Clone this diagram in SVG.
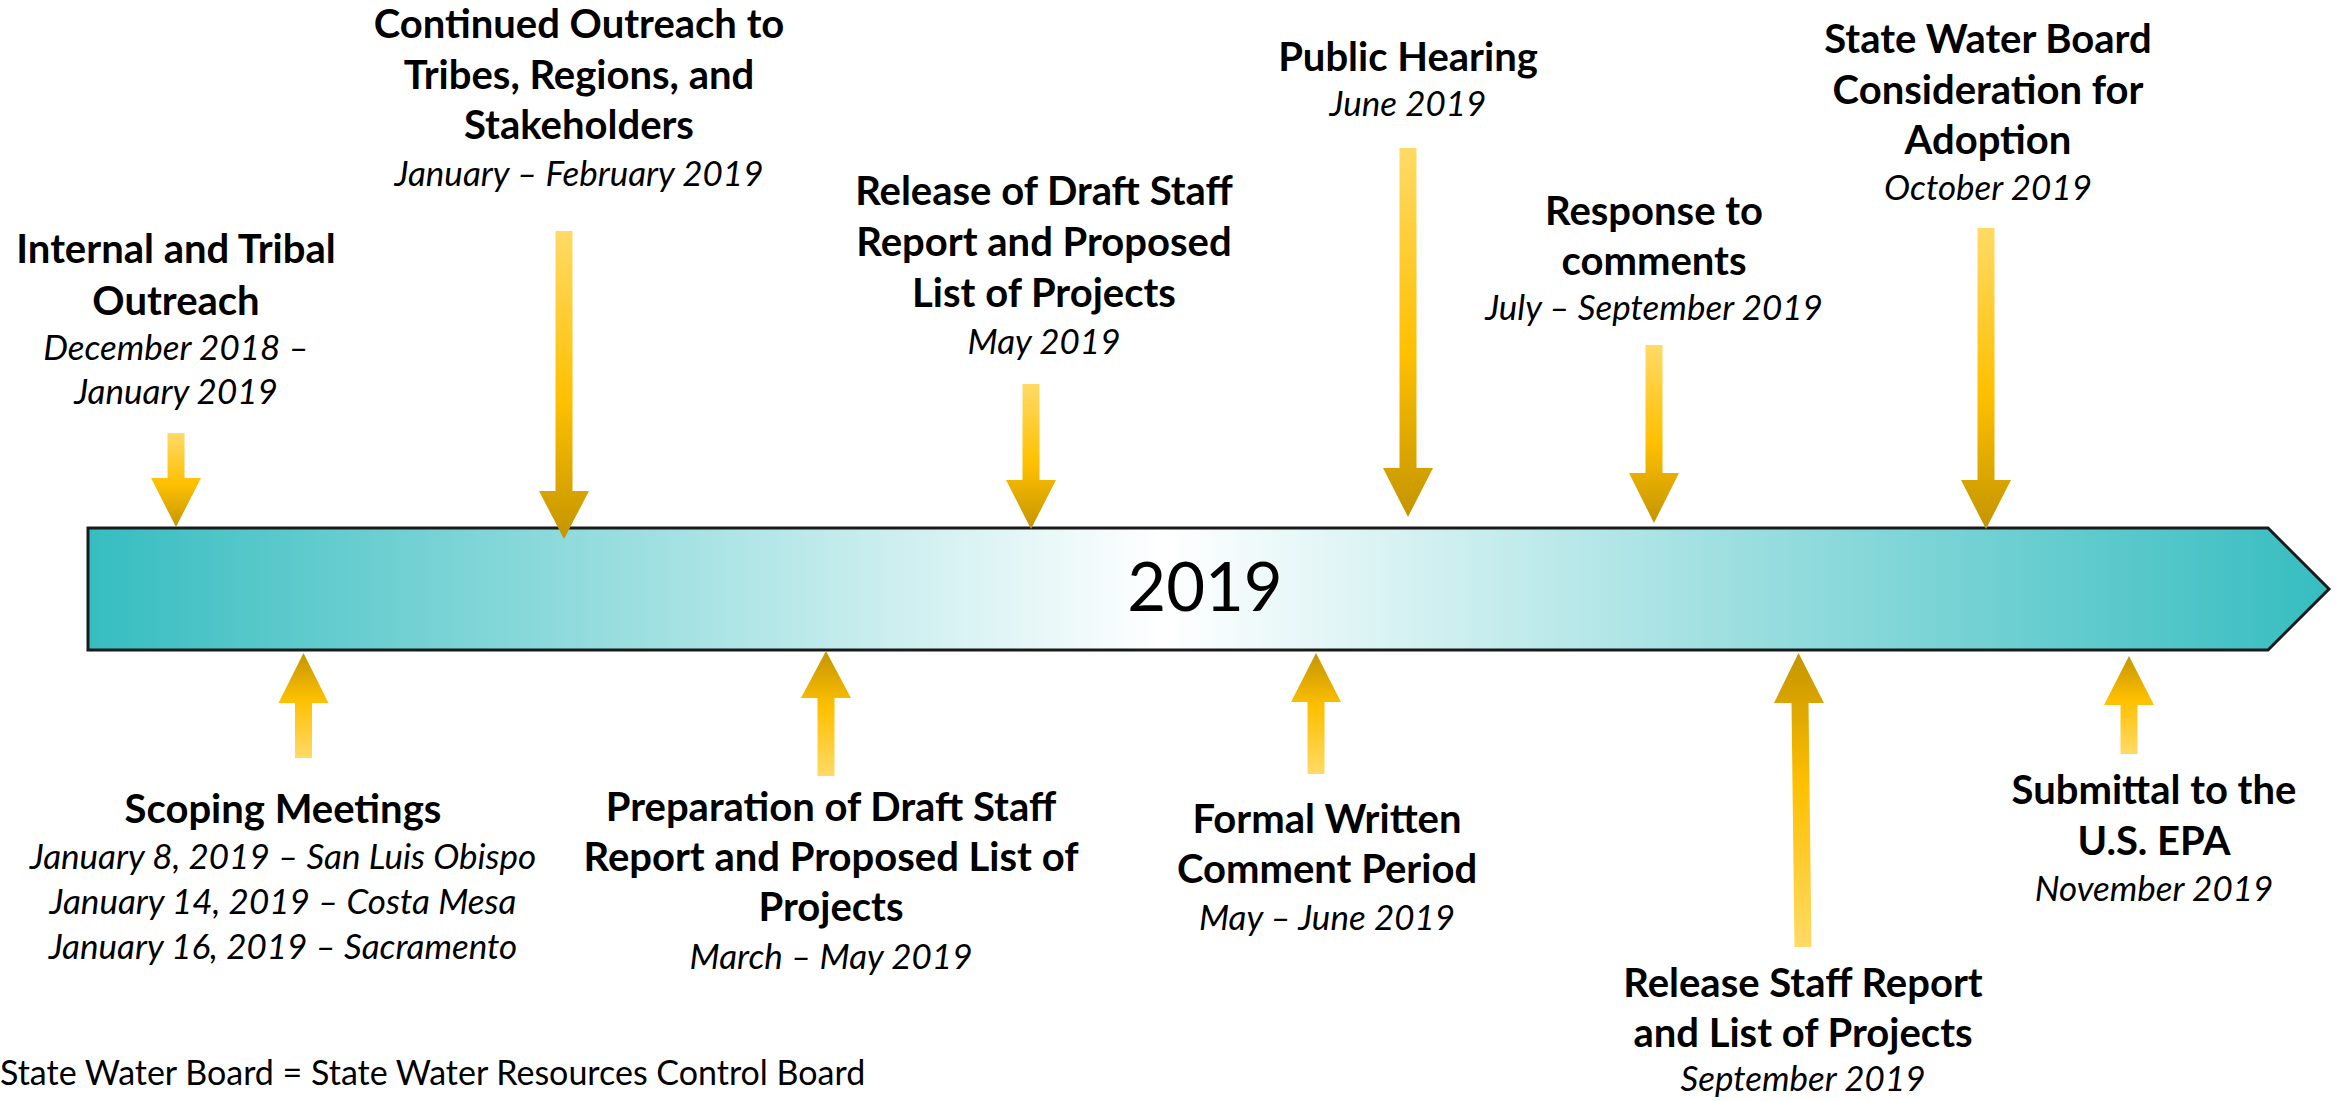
<svg xmlns="http://www.w3.org/2000/svg" width="2336" height="1101" viewBox="0 0 2336 1101">
  <style>
    text { fill: #000; font-family: Lato, "Liberation Sans", sans-serif; text-anchor: middle; }
    .b { font-weight: bold; font-size: 40px; }
    .i { font-style: italic; font-size: 35px; }
    .yr { font-size: 67px; }
    .note { font-size: 34px; text-anchor: start; }
    .arrow { stroke: none; }
    .down { fill: url(#gDown); }
    .up { fill: url(#gUp); }
  </style>
  <defs>
    <linearGradient id="gBar" gradientUnits="userSpaceOnUse" x1="88" y1="0" x2="2329" y2="0">
      <stop offset="0" stop-color="#36BDC0"/>
      <stop offset="0.48" stop-color="#FFFFFF"/>
      <stop offset="1" stop-color="#36BDC0"/>
    </linearGradient>
    <linearGradient id="gDown" x1="0" y1="0" x2="0" y2="1">
      <stop offset="0" stop-color="#FFDA66"/>
      <stop offset="0.55" stop-color="#FFC000"/>
      <stop offset="1" stop-color="#C49500"/>
    </linearGradient>
    <linearGradient id="gUp" x1="0" y1="1" x2="0" y2="0">
      <stop offset="0" stop-color="#FFDA66"/>
      <stop offset="0.55" stop-color="#FFC000"/>
      <stop offset="1" stop-color="#C49500"/>
    </linearGradient>
  </defs>
  <rect x="0" y="0" width="2336" height="1101" fill="#FFFFFF"/>

  <g id="timeline">
    <polygon points="88,528 2268,528 2329,589 2268,650 88,650" fill="url(#gBar)" stroke="#1A1A1A" stroke-width="3"/>
    <text class="yr" x="1205" y="611">2019</text>
  </g>

  <g id="connectors">
    <polygon class="arrow down" points="167.5,433 184.5,433 184.5,478 201,478 176,527 151,478 167.5,478"/>
    <polygon class="arrow down" points="555.5,231 572.5,231 572.5,491 589,491 564,539 539,491 555.5,491"/>
    <polygon class="arrow down" points="1022.5,384 1039.5,384 1039.5,480 1056,480 1031,529 1006,480 1022.5,480"/>
    <polygon class="arrow down" points="1399.5,148 1416.5,148 1416.5,468 1433,468 1408,517 1383,468 1399.5,468"/>
    <polygon class="arrow down" points="1645.5,345 1662.5,345 1662.5,473 1679,473 1654,523 1629,473 1645.5,473"/>
    <polygon class="arrow down" points="1977.5,228 1994.5,228 1994.5,480 2011,480 1986,529 1961,480 1977.5,480"/>
    <polygon class="arrow up" points="303.5,653 328.5,703 312,703 312,758 295,758 295,703 278.5,703"/>
    <polygon class="arrow up" points="826,651 851,698 834.5,698 834.5,776 817.5,776 817.5,698 801,698"/>
    <polygon class="arrow up" points="1316,653 1341,702 1324.5,702 1324.5,774 1307.5,774 1307.5,702 1291,702"/>
    <polygon class="arrow up" points="1798.5,653 1824,703 1808.5,703 1811.5,947 1794.5,947 1791.5,703 1774,703"/>
    <polygon class="arrow up" points="2129,656 2154,705 2137.5,705 2137.5,754 2120.5,754 2120.5,705 2104,705"/>
  </g>

  <g id="n-internal">
    <text class="b" x="176" y="263">Internal and Tribal</text>
    <text class="b" x="176" y="315">Outreach</text>
    <text class="i" x="176" y="360">December 2018 –</text>
    <text class="i" x="176" y="404">January 2019</text>
  </g>
  <g id="n-continued">
    <text class="b" x="579" y="38">Continued Outreach to</text>
    <text class="b" x="579" y="89">Tribes, Regions, and</text>
    <text class="b" x="579" y="139">Stakeholders</text>
    <text class="i" x="579" y="186">January – February 2019</text>
  </g>
  <g id="n-release-draft">
    <text class="b" x="1044" y="205">Release of Draft Staff</text>
    <text class="b" x="1044" y="256">Report and Proposed</text>
    <text class="b" x="1044" y="307">List of Projects</text>
    <text class="i" x="1044" y="354">May 2019</text>
  </g>
  <g id="n-hearing">
    <text class="b" x="1408" y="71">Public Hearing</text>
    <text class="i" x="1408" y="116">June 2019</text>
  </g>
  <g id="n-response">
    <text class="b" x="1654" y="225">Response to</text>
    <text class="b" x="1654" y="275">comments</text>
    <text class="i" x="1654" y="320">July – September 2019</text>
  </g>
  <g id="n-adoption">
    <text class="b" x="1988" y="53">State Water Board</text>
    <text class="b" x="1988" y="104">Consideration for</text>
    <text class="b" x="1988" y="154">Adoption</text>
    <text class="i" x="1988" y="200">October 2019</text>
  </g>
  <g id="n-scoping">
    <text class="b" x="283" y="823">Scoping Meetings</text>
    <text class="i" x="283" y="869">January 8, 2019 – San Luis Obispo</text>
    <text class="i" x="283" y="914">January 14, 2019 – Costa Mesa</text>
    <text class="i" x="283" y="959">January 16, 2019 – Sacramento</text>
  </g>
  <g id="n-preparation">
    <text class="b" x="831" y="821">Preparation of Draft Staff</text>
    <text class="b" x="831" y="871">Report and Proposed List of</text>
    <text class="b" x="831" y="921">Projects</text>
    <text class="i" x="831" y="969">March – May 2019</text>
  </g>
  <g id="n-formal">
    <text class="b" x="1327" y="833">Formal Written</text>
    <text class="b" x="1327" y="883">Comment Period</text>
    <text class="i" x="1327" y="930">May – June 2019</text>
  </g>
  <g id="n-release-staff">
    <text class="b" x="1803" y="997">Release Staff Report</text>
    <text class="b" x="1803" y="1047">and List of Projects</text>
    <text class="i" x="1803" y="1091">September 2019</text>
  </g>
  <g id="n-submittal">
    <text class="b" x="2154" y="804">Submittal to the</text>
    <text class="b" x="2154" y="855">U.S. EPA</text>
    <text class="i" x="2154" y="901">November 2019</text>
  </g>
  <g id="footnote">
    <text class="note" x="0" y="1085">State Water Board = State Water Resources Control Board</text>
  </g>
</svg>
